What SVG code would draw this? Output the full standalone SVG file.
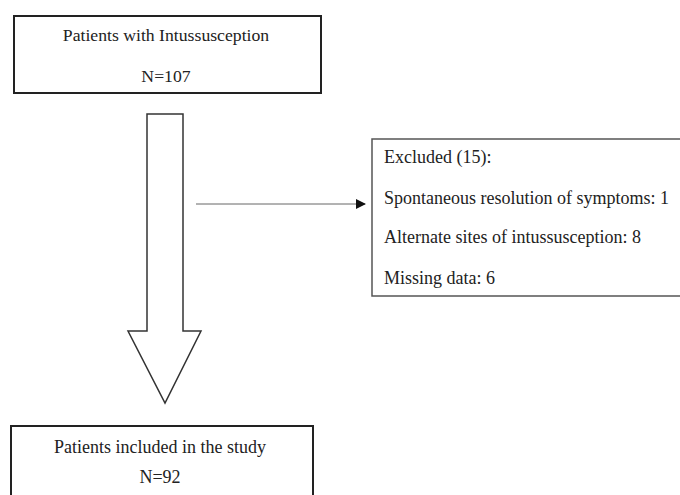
<svg xmlns="http://www.w3.org/2000/svg" width="680" height="495" viewBox="0 0 680 495">
<style>
text{font-family:"Liberation Serif","Times New Roman",serif;fill:#222;font-size:18px}
.c{text-anchor:middle}
.box{fill:#fff;stroke:#222;stroke-width:2}
.box2{fill:#fff;stroke:#555;stroke-width:1.5}
</style>
<defs>
<marker id="ah" markerWidth="10" markerHeight="10" refX="9" refY="5" orient="auto" markerUnits="userSpaceOnUse">
<path d="M0,0 L10,5 L0,10 Z" fill="#111"/>
</marker>
</defs>
<rect width="680" height="495" fill="#fff"/>
<g id="start">
<rect class="box" x="14" y="16" width="307" height="77"/>
<text class="c" x="166" y="41" style="font-size:17.7px">Patients with Intussusception</text>
<text class="c" x="166" y="82" style="font-size:17.7px">N=107</text>
</g>
<g id="connectors">
<path d="M147,114 H183 V331 H201 L165,403 L128,331 H147 Z" fill="#fff" stroke="#333" stroke-width="1.5" stroke-linejoin="miter"/>
<line x1="196" y1="204" x2="365" y2="204" stroke="#666" stroke-width="1" marker-end="url(#ah)"/>
</g>
<g id="excluded">
<rect class="box2" x="372" y="139" width="320" height="157"/>
<text x="384" y="163">Excluded (15):</text>
<text x="384" y="204">Spontaneous resolution of symptoms: 1</text>
<text x="384" y="243">Alternate sites of intussusception: 8</text>
<text x="384" y="284">Missing data: 6</text>
</g>
<g id="included">
<rect class="box" x="11" y="426" width="302" height="80"/>
<text class="c" x="160" y="453">Patients included in the study</text>
<text class="c" x="160" y="483">N=92</text>
</g>
</svg>
